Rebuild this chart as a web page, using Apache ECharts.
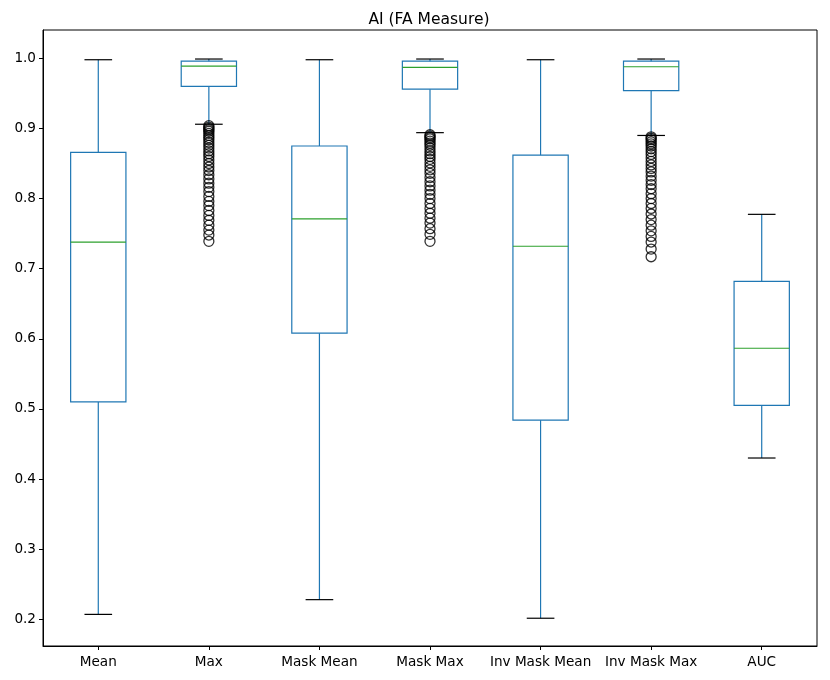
<!DOCTYPE html>
<html>
<head>
<meta charset="utf-8">
<script src="https://cdn.jsdelivr.net/npm/echarts@6/dist/echarts.min.js"></script>
<style>html,body{margin:0;padding:0;background:#fff}#c{width:830px;height:680px}</style>
</head>
<body>
<div id="c"></div>
<script>
const categories = ['Mean', 'Max', 'Mask Mean', 'Mask Max', 'Inv Mask Mean', 'Inv Mask Max', 'AUC'];
// [lower whisker, Q1, median, Q3, upper whisker]
const boxLow    = [0.207, 0.906, 0.228, 0.894, 0.2015, 0.890, 0.430];
const boxQ1     = [0.510, 0.960, 0.608, 0.956, 0.484, 0.954, 0.505];
const boxMedian = [0.738, 0.989, 0.771, 0.987, 0.732, 0.988, 0.5865];
const boxQ3     = [0.866, 0.996, 0.875, 0.996, 0.862, 0.996, 0.682];
const boxHigh   = [0.998, 0.999, 0.998, 0.999, 0.998, 0.999, 0.7775];
const outliersMax = [0.904, 0.902, 0.900, 0.898, 0.896, 0.893, 0.890, 0.887, 0.884, 0.880, 0.876, 0.872, 0.868, 0.864, 0.860, 0.855, 0.850, 0.845, 0.840, 0.834, 0.828, 0.822, 0.816, 0.810, 0.803, 0.796, 0.790, 0.783, 0.776, 0.769, 0.762, 0.755, 0.748, 0.739];
const outliersMaskMax = [0.891, 0.889, 0.887, 0.885, 0.882, 0.879, 0.876, 0.872, 0.868, 0.864, 0.860, 0.856, 0.851, 0.846, 0.841, 0.836, 0.830, 0.824, 0.818, 0.812, 0.806, 0.800, 0.793, 0.786, 0.779, 0.772, 0.765, 0.757, 0.749, 0.739];
const outliersInvMaskMax = [0.888, 0.886, 0.884, 0.881, 0.878, 0.875, 0.871, 0.867, 0.863, 0.858, 0.853, 0.848, 0.843, 0.838, 0.832, 0.826, 0.820, 0.814, 0.807, 0.800, 0.793, 0.786, 0.778, 0.770, 0.762, 0.754, 0.746, 0.738, 0.728, 0.717];
const yTicks = [0.2, 0.3, 0.4, 0.5, 0.6, 0.7, 0.8, 0.9, 1.0];

const boxData = categories.map((c, i) => [i, boxLow[i], boxQ1[i], boxMedian[i], boxQ3[i], boxHigh[i]]);
const outlierData = []
  .concat(outliersMax.map(v => [1, v]))
  .concat(outliersMaskMax.map(v => [3, v]))
  .concat(outliersInvMaskMax.map(v => [5, v]));

const chart = echarts.init(document.getElementById('c'), null, {renderer: 'canvas'});
const font = 'DejaVu Sans';
chart.setOption({
  animation: false,
  backgroundColor: '#fff',
  title: {
    text: 'AI (FA Measure)',
    left: 424, top: 7, textAlign: 'center',
    textStyle: {fontFamily: font, fontSize: 15.5, fontWeight: 'normal', color: '#000'}
  },
  grid: {left: 43, right: 13, top: 30, bottom: 34, show: true, borderColor: '#000', borderWidth: 1, containLabel: false},
  xAxis: {
    type: 'category', data: categories,
    axisLine: {show: true, lineStyle: {color: '#000', width: 1}},
    axisTick: {show: true, alignWithLabel: true, interval: 0, length: 4, lineStyle: {color: '#000'}},
    axisLabel: {fontFamily: font, fontSize: 13.6, color: '#000', margin: 9, interval: 0},
    splitLine: {show: false}
  },
  yAxis: {
    type: 'value', min: 0.1619, max: 1.0404,
    axisLine: {show: true, lineStyle: {color: '#000', width: 1}},
    axisTick: {show: true, length: 4, lineStyle: {color: '#000'}, customValues: yTicks},
    axisLabel: {fontFamily: font, fontSize: 13.6, color: '#000', margin: 7, customValues: yTicks,
      formatter: v => v.toFixed(1)},
    splitLine: {show: false}
  },
  series: [
    {
      type: 'custom',
      data: boxData,
      encode: {x: 0, y: [1, 2, 3, 4, 5]},
      renderItem: function (params, api) {
        const idx = api.value(0);
        const band = api.size([1, 0])[0];
        const pLow = api.coord([idx, api.value(1)]);
        const pQ1 = api.coord([idx, api.value(2)]);
        const pMed = api.coord([idx, api.value(3)]);
        const pQ3 = api.coord([idx, api.value(4)]);
        const pHigh = api.coord([idx, api.value(5)]);
        const x = pLow[0];
        const hw = band * 0.25;
        const cw = band * 0.125;
        const blue = '#1f77b4';
        const lw = 1.2;
        return {
          type: 'group',
          children: [
            {type: 'line', shape: {x1: x, y1: pLow[1], x2: x, y2: pQ1[1]}, style: {stroke: blue, lineWidth: lw}},
            {type: 'line', shape: {x1: x, y1: pQ3[1], x2: x, y2: pHigh[1]}, style: {stroke: blue, lineWidth: lw}},
            {type: 'rect', shape: {x: x - hw, y: pQ3[1], width: hw * 2, height: pQ1[1] - pQ3[1]}, style: {fill: 'none', stroke: blue, lineWidth: lw}},
            {type: 'line', shape: {x1: x - hw, y1: pMed[1], x2: x + hw, y2: pMed[1]}, style: {stroke: '#2ca02c', lineWidth: lw}},
            {type: 'line', shape: {x1: x - cw, y1: pLow[1], x2: x + cw, y2: pLow[1]}, style: {stroke: '#000', lineWidth: lw}},
            {type: 'line', shape: {x1: x - cw, y1: pHigh[1], x2: x + cw, y2: pHigh[1]}, style: {stroke: '#000', lineWidth: lw}}
          ]
        };
      },
      z: 2
    },
    {
      type: 'scatter',
      data: outlierData,
      symbol: 'circle',
      symbolSize: 10,
      itemStyle: {color: 'rgba(255,255,255,0)', borderColor: '#000', borderWidth: 1.3},
      z: 3
    }
  ]
});
</script>
</body>
</html>
